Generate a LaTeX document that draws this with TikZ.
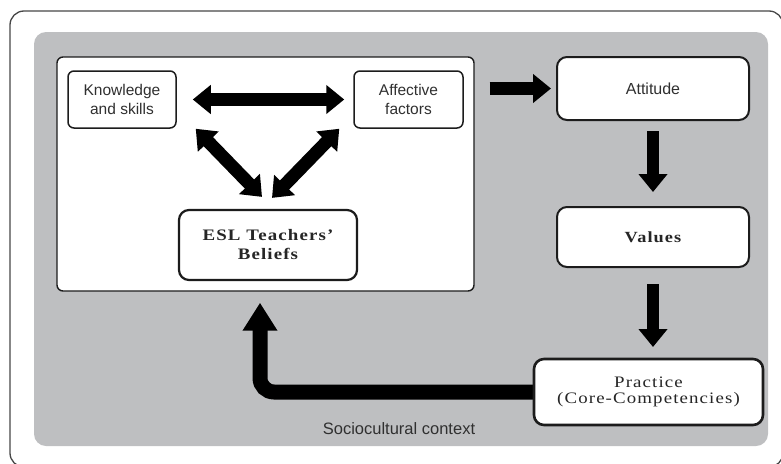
\documentclass[tikz,border=0pt]{standalone}
\usepackage{fontspec}
\setmainfont{Liberation Serif}
\newfontfamily\arialfont{Liberation Sans}
\newfontfamily\spacedserif[LetterSpace=7, FakeStretch=1.18]{Liberation Serif}
\usetikzlibrary{arrows.meta, calc, positioning}
\definecolor{contextgray}{RGB}{190,191,193}
\definecolor{boxedge}{RGB}{28,28,28}
\definecolor{labeltext}{RGB}{48,48,48}
\tikzset{
    outer frame/.style  = {draw = black!72, line width = 1.3pt, rounded corners = 14pt},
    context/.style      = {fill = contextgray, rounded corners = 12pt},
    system box/.style   = {draw = boxedge, fill = white, line width = 1.4pt, rounded corners = 6pt, minimum width = 417pt, minimum height = 234pt, inner sep = 0pt},
    factor/.style       = {draw = boxedge, fill = white, line width = 1.5pt, rounded corners = 6pt, align = center, text = labeltext, font = \arialfont\fontsize{15.5}{19}\selectfont, minimum height = 57pt, inner sep = 0pt},
    stage/.style        = {draw = boxedge, fill = white, line width = 2pt, rounded corners = 10pt, align = center, text = labeltext, minimum width = 192pt, inner sep = 0pt},
    serif label/.style  = {font = \spacedserif\fontsize{16}{16.5}\selectfont, text = black!85},
    fat arrow/.style    = {draw = black, line width = 13pt, -{Triangle[width = 28pt, length = 18pt]}},
    fat double/.style   = {draw = black, line width = 13pt, {Triangle[width = 28pt, length = 18pt]}-{Triangle[width = 28pt, length = 18pt]}}
}
\begin{document}
\begin{tikzpicture}[x=1pt, y=-1pt]
		\useasboundingbox (0,0) rectangle (781,463);
		\begin{scope}
			\clip (0,0) rectangle (781,463);
			\draw[outer frame] (10,11) rectangle (783,467);
		\end{scope}
		\path[context] (34,32) rectangle (768,446);

		% belief system
		\node[system box] (beliefsys) at (265.5,174) {};
		\node[factor, minimum width=108pt] (know) at (122,99.5) {Knowledge\\and skills};
		\node[factor, minimum width=109pt] (affect) at (408.5,99.5) {Affective\\factors};
		\node[stage, serif label, minimum width=178pt, minimum height=70pt, line width=2.2pt, font=\spacedserif\bfseries\fontsize{16}{19}\selectfont] (esl) at (268,245) {ESL Teachers’\\Beliefs};

		% stages
		\node[stage, minimum height=63pt, font=\arialfont\fontsize{16}{19}\selectfont] (attitude) at (653,88.5) {Attitude};
		\node[stage, serif label, minimum height=60pt, font=\spacedserif\bfseries\fontsize{15.5}{16}\selectfont] (values) at (653,237) {Values};

		\draw[fat double, shorten <=16pt, shorten >=9pt] (know) -- (affect);
		\draw[fat double] ([xshift=19]know.south east) -- ([xshift=-6,yshift=12]esl.north);
		\draw[fat double] ([xshift=-14]affect.south west) -- ([xshift=4,yshift=11]esl.north);

		\draw[fat arrow, shorten <=15pt, shorten >=5pt] (beliefsys.east |- attitude) -- (attitude.west);
		\draw[fat arrow, line width=12pt, shorten <=10pt, shorten >=14pt] (attitude.south) -- (values.north);
		\draw[fat arrow, line width=12pt, shorten <=16pt, shorten >=13pt] (values.south) -- ++(0,92);
		\draw[fat arrow, line width=15pt, rounded corners=14pt, -{Triangle[width=33pt, length=28pt]}, shorten >=11pt] (648.5,392) -| ([xshift=-5.5]beliefsys.south);

		\node[stage, serif label, minimum width=229pt, minimum height=66pt, line width=2.6pt] (practice) at (648.5,392) {Practice\\(Core-Competencies)};

		\node[font=\arialfont\fontsize{16.5}{19}\selectfont, text=labeltext] (context) at (399,429) {Sociocultural context};
	\end{tikzpicture}
\end{document}
